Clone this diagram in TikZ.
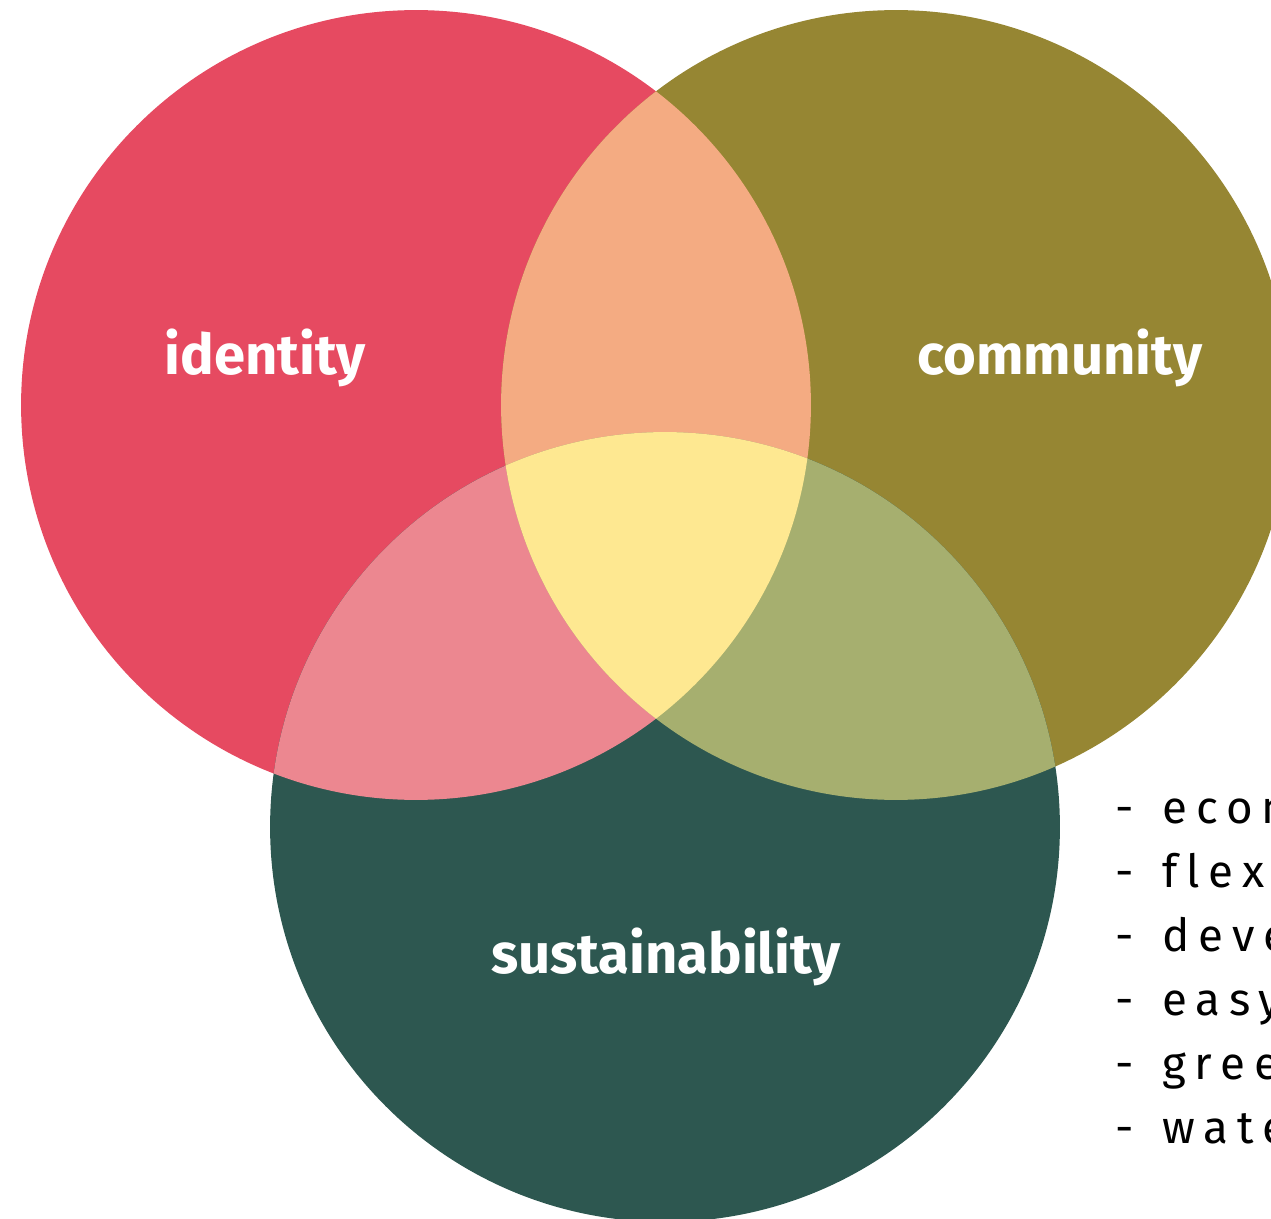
\documentclass[tikz,border=0pt]{standalone}
\usepackage{fontspec}
\setmainfont{Fira Sans}
\newfontfamily\labfont{Fira Sans}
\newfontfamily\listfont[LetterSpace=20,Ligatures={NoCommon}]{Fira Sans}
\definecolor{cid}{HTML}{E64A61}
\definecolor{ccom}{HTML}{968633}
\definecolor{csus}{HTML}{2D5750}
\definecolor{cidcom}{HTML}{F4AB82}
\definecolor{cidsus}{HTML}{EC8790}
\definecolor{ccomsus}{HTML}{A6AF6F}
\definecolor{call}{HTML}{FEE891}
\tikzset{
  lab/.style={text=white, font=\labfont\bfseries\fontsize{32}{38}\selectfont, anchor=base, inner sep=0pt},
  item/.style={text=black, font=\listfont\fontsize{26}{30}\selectfont, anchor=base west, inner sep=0pt}
}
\begin{document}
\begin{tikzpicture}[x=0.02cm,y=-0.02cm]
\useasboundingbox (0,0) rectangle (1271,1219);
\def\rad{7.9cm}
\coordinate (cI) at (416,405);
\coordinate (cC) at (896,405);
\coordinate (cS) at (665,827);
\fill[cid] (cI) circle (\rad);
\fill[ccom] (cC) circle (\rad);
\fill[csus] (cS) circle (\rad);
\begin{scope}
  \clip (cI) circle (\rad);
  \fill[cidcom] (cC) circle (\rad);
  \fill[cidsus] (cS) circle (\rad);
\end{scope}
\begin{scope}
  \clip (cC) circle (\rad);
  \fill[ccomsus] (cS) circle (\rad);
\end{scope}
\begin{scope}
  \clip (cI) circle (\rad);
  \clip (cC) circle (\rad);
  \fill[call] (cS) circle (\rad);
\end{scope}
\node[lab] (lid) at (265,375) {identity};
\node[lab] (lcom) at (1060,375) {community};
\node[lab] (lsus) at (666,973) {sustainability};
\node[item] (i1) at (1115,823) {-\kern4pt{} econ};
\node[item] (i2) at (1115,887) {-\kern4pt{} flexi};
\node[item] (i3) at (1115,951) {-\kern4pt{} deve};
\node[item] (i4) at (1115,1015) {-\kern4pt{} easy};
\node[item] (i5) at (1115,1079) {-\kern4pt{} gree};
\node[item] (i6) at (1115,1143) {-\kern4pt{} wate};
\end{tikzpicture}
\end{document}
